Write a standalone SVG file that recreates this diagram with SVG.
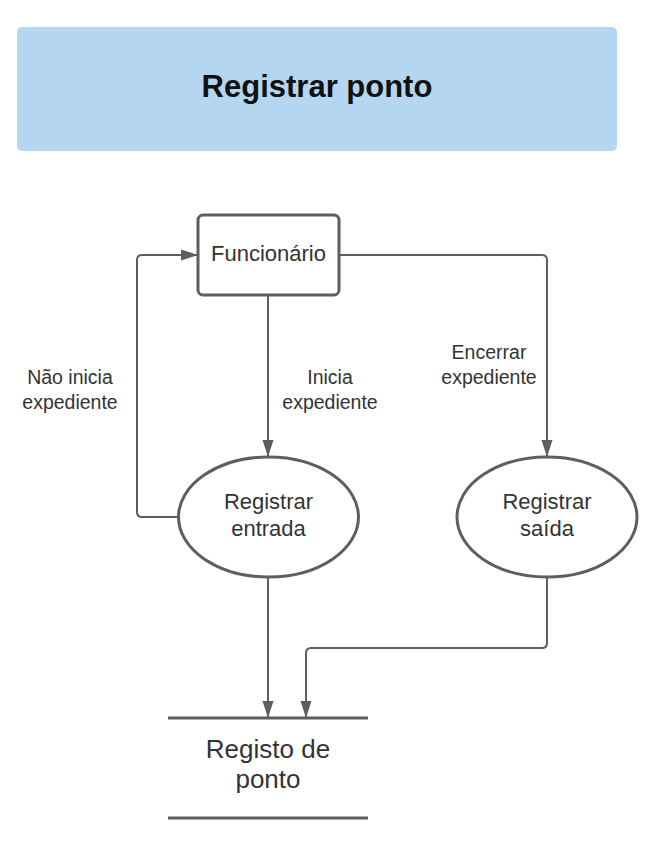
<svg xmlns="http://www.w3.org/2000/svg" width="656" height="859" viewBox="0 0 656 859">
<defs>
<style>
.t{font-family:"Liberation Sans",Arial,sans-serif;fill:#333;text-anchor:middle}
.n{fill:#fff;stroke:#5e5e5e;stroke-width:3}
.c{fill:none;stroke:#5e5e5e;stroke-width:2;stroke-linejoin:round}
.s{stroke:#5e5e5e;stroke-width:3}
.l{font-size:19.5px}
</style>
<marker id="a" markerWidth="17" markerHeight="12" refX="16" refY="6" orient="auto" markerUnits="userSpaceOnUse">
<path d="M0,0.5 L17,6 L0,11.5 Z" fill="#5e5e5e"/>
</marker>
</defs>
<rect width="656" height="859" fill="#fff"/>
<g id="header">
<rect x="17" y="27" width="600" height="124" rx="5" fill="#b5d6f0"/>
<text class="t" x="317" y="97" font-size="31" font-weight="bold" style="fill:#111">Registrar ponto</text>
</g>
<g id="connectors">
<path class="c" d="M268,295 V456" marker-end="url(#a)"/>
<path class="c" d="M340,255 H542 Q547,255 547,260 V456" marker-end="url(#a)"/>
<path class="c" d="M178,517 H142 Q137,517 137,512 V260 Q137,255 142,255 H197" marker-end="url(#a)"/>
<path class="c" d="M268,577 V717" marker-end="url(#a)"/>
<path class="c" d="M547,577 V643 Q547,648 542,648 H311 Q306,648 306,653 V717" marker-end="url(#a)"/>
<text class="t l" x="70" y="384">Não inicia</text>
<text class="t l" x="70" y="409">expediente</text>
<text class="t l" x="330" y="384">Inicia</text>
<text class="t l" x="330" y="409">expediente</text>
<text class="t l" x="489" y="359">Encerrar</text>
<text class="t l" x="489" y="384">expediente</text>
</g>
<g id="funcionario">
<rect class="n" x="198" y="215" width="141" height="80" rx="5"/>
<text class="t" x="268.5" y="261" font-size="22">Funcionário</text>
</g>
<g id="registrar-entrada">
<ellipse class="n" cx="268.5" cy="517" rx="90" ry="60"/>
<text class="t" x="268.5" y="509" font-size="22">Registrar</text>
<text class="t" x="268.5" y="536" font-size="22">entrada</text>
</g>
<g id="registrar-saida">
<ellipse class="n" cx="547" cy="517" rx="90" ry="60"/>
<text class="t" x="547" y="509" font-size="22">Registrar</text>
<text class="t" x="547" y="536" font-size="22">saída</text>
</g>
<g id="registo-de-ponto">
<line class="s" x1="168" y1="718" x2="368" y2="718"/>
<line class="s" x1="168" y1="818" x2="368" y2="818"/>
<text class="t" x="268" y="758" font-size="26">Registo de</text>
<text class="t" x="268" y="788" font-size="26">ponto</text>
</g>
</svg>
